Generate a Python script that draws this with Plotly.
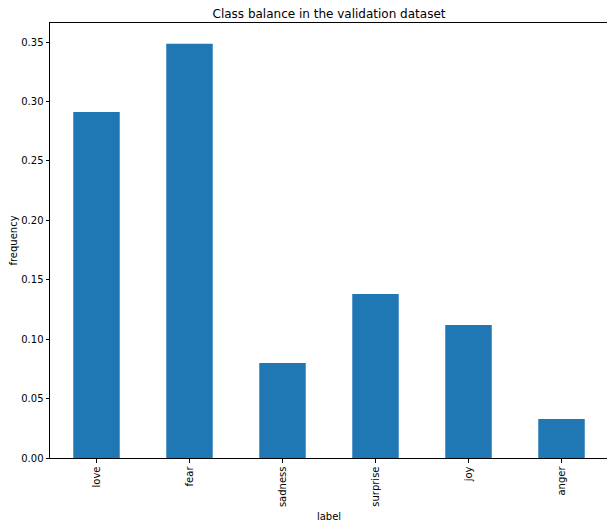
import plotly.graph_objects as go

labels = ["love", "fear", "sadness", "surprise", "joy", "anger"]
freq = [0.2912, 0.3485, 0.0800, 0.1380, 0.1120, 0.0328]
ytick_vals = [0.0, 0.05, 0.10, 0.15, 0.20, 0.25, 0.30, 0.35]
ytick_text = ["0.00", "0.05", "0.10", "0.15", "0.20", "0.25", "0.30", "0.35"]

# the page puts the figure 8px in from the top-left corner
W, H = 607, 519

fig = go.Figure(go.Bar(
    x=list(range(len(labels))),
    y=freq,
    width=0.5,
    marker=dict(color="#1f77b4", line=dict(width=0)),
))

axis_common = dict(
    showline=True,
    linecolor="black",
    linewidth=1,
    mirror=True,
    showgrid=False,
    zeroline=False,
    automargin=False,
    ticks="outside",
    ticklen=3.5,
    tickwidth=1,
    tickcolor="black",
    tickfont=dict(family="DejaVu Sans", size=10, color="black"),
)

fig.update_layout(
    width=W,
    height=H,
    margin=dict(l=42, r=7, t=15, b=69),
    plot_bgcolor="white",
    paper_bgcolor="white",
    font=dict(family="DejaVu Sans", color="black"),
    showlegend=False,
    title=dict(
        text="Class balance in the validation dataset",
        x=(42 + 600) / 2 / W,
        xanchor="center",
        y=1 - 6 / H,
        yanchor="middle",
        font=dict(size=12, family="DejaVu Sans", color="black"),
    ),
    xaxis=dict(
        axis_common,
        range=[-0.5, len(labels) - 0.5],
        tickmode="array",
        tickvals=list(range(len(labels))),
        ticktext=labels,
        tickangle=-90,
        title=dict(text="label", font=dict(size=10), standoff=6),
    ),
    yaxis=dict(
        axis_common,
        range=[0, 0.366],
        tickmode="array",
        tickvals=ytick_vals,
        ticktext=ytick_text,
        title=dict(text="frequency", font=dict(size=10), standoff=6),
    ),
)

fig.write_html("out.html")
